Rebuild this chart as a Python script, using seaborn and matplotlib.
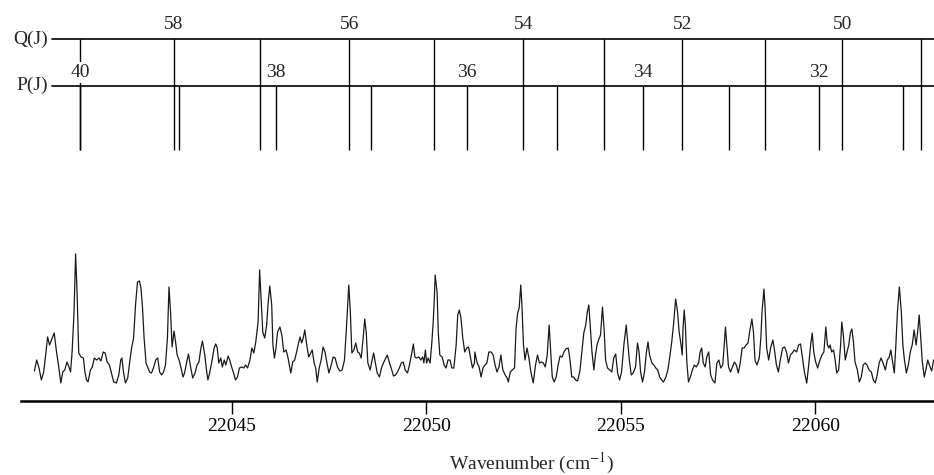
import matplotlib
matplotlib.use("Agg")
import matplotlib.pyplot as plt
import seaborn as sns
import pandas as pd

# rotational assignments: Q(J) and P(J) line positions (cm-1)
q_j = [59, 58, 57, 56, 55, 54, 53, 52, 51, 50, 49]
q_wn = [22041.10, 22043.52, 22045.73, 22048.02, 22050.20, 22052.49,
        22054.57, 22056.58, 22058.71, 22060.69, 22062.72]
p_j = [40, 39, 38, 37, 36, 35, 34, 33, 32, 31]
p_wn = [22041.10, 22043.65, 22046.14, 22048.58, 22051.05, 22053.36,
        22055.57, 22057.78, 22060.10, 22062.26]

x_ticks = [22045, 22050, 22055, 22060]

# spectrum (intensity in arbitrary units)
spectrum_wn = [
    22039.93, 22039.99, 22040.05, 22040.11, 22040.17, 22040.22, 22040.27, 22040.32, 22040.37, 22040.44,
    22040.50, 22040.56, 22040.61, 22040.66, 22040.71, 22040.77, 22040.82, 22040.86, 22040.90, 22040.95,
    22040.99, 22041.03, 22041.07, 22041.13, 22041.19, 22041.23, 22041.27, 22041.31, 22041.37, 22041.42,
    22041.47, 22041.53, 22041.59, 22041.64, 22041.70, 22041.75, 22041.80, 22041.86, 22041.91, 22041.97,
    22042.04, 22042.10, 22042.15, 22042.18, 22042.22, 22042.27, 22042.33, 22042.38, 22042.43, 22042.48,
    22042.53, 22042.58, 22042.63, 22042.67, 22042.71, 22042.75, 22042.80, 22042.84, 22042.89, 22042.94,
    22042.99, 22043.05, 22043.10, 22043.15, 22043.20, 22043.25, 22043.30, 22043.35, 22043.39, 22043.43,
    22043.47, 22043.52, 22043.56, 22043.60, 22043.65, 22043.70, 22043.75, 22043.79, 22043.84, 22043.89,
    22043.95, 22044.00, 22044.06, 22044.11, 22044.16, 22044.21, 22044.25, 22044.31, 22044.36, 22044.39,
    22044.44, 22044.49, 22044.55, 22044.59, 22044.63, 22044.67, 22044.72, 22044.76, 22044.81, 22044.85,
    22044.91, 22044.95, 22045.00, 22045.05, 22045.10, 22045.15, 22045.20, 22045.26, 22045.31, 22045.36,
    22045.41,
    22045.47, 22045.52, 22045.57, 22045.62, 22045.68, 22045.72, 22045.76, 22045.80, 22045.85, 22045.90,
    22045.94, 22045.98, 22046.03, 22046.06, 22046.10, 22046.14, 22046.18, 22046.24, 22046.29, 22046.34,
    22046.40, 22046.45, 22046.52, 22046.57, 22046.62, 22046.67, 22046.72, 22046.76, 22046.80, 22046.84,
    22046.88, 22046.93, 22046.98, 22047.03, 22047.07, 22047.12, 22047.16, 22047.20, 22047.25, 22047.30,
    22047.35, 22047.40, 22047.45, 22047.50, 22047.56, 22047.61, 22047.66, 22047.72, 22047.78, 22047.84,
    22047.90, 22047.95, 22048.01, 22048.05, 22048.09, 22048.14, 22048.19, 22048.24, 22048.28, 22048.33,
    22048.38, 22048.42, 22048.46, 22048.50, 22048.56, 22048.61, 22048.65, 22048.69, 22048.74, 22048.80,
    22048.85, 22048.90, 22048.95, 22049.00, 22049.05, 22049.10, 22049.16, 22049.21, 22049.26, 22049.31,
    22049.36, 22049.41, 22049.46, 22049.52, 22049.57, 22049.62, 22049.67, 22049.71, 22049.75, 22049.81,
    22049.86, 22049.91, 22049.94, 22049.98, 22050.01, 22050.05, 22050.10, 22050.14, 22050.18, 22050.21,
    22050.23, 22050.28, 22050.31, 22050.35, 22050.41, 22050.46, 22050.51, 22050.56, 22050.61, 22050.66,
    22050.71, 22050.77, 22050.81, 22050.85, 22050.89, 22050.94, 22050.99, 22051.04, 22051.09, 22051.14,
    22051.19, 22051.24,
    22051.25, 22051.31, 22051.36, 22051.41, 22051.46, 22051.51, 22051.56, 22051.61, 22051.67, 22051.72,
    22051.77, 22051.82, 22051.87, 22051.92, 22051.97, 22052.03, 22052.08, 22052.11, 22052.16, 22052.21,
    22052.27, 22052.31, 22052.35, 22052.39, 22052.43, 22052.46, 22052.50, 22052.54, 22052.59, 22052.64,
    22052.69, 22052.75, 22052.81, 22052.86, 22052.91, 22052.96, 22053.01, 22053.06, 22053.11, 22053.16,
    22053.20, 22053.24, 22053.29, 22053.34, 22053.39, 22053.44, 22053.49, 22053.54, 22053.59, 22053.65,
    22053.69, 22053.74, 22053.79, 22053.84, 22053.89, 22053.95, 22054.00, 22054.05, 22054.10, 22054.14,
    22054.18, 22054.22, 22054.26, 22054.31, 22054.35, 22054.39, 22054.43, 22054.48, 22054.53, 22054.57,
    22054.61, 22054.66, 22054.72, 22054.77, 22054.82, 22054.87, 22054.92, 22054.97, 22055.02, 22055.08,
    22055.14, 22055.18, 22055.22, 22055.27, 22055.32, 22055.38, 22055.43, 22055.47, 22055.51, 22055.56,
    22055.61, 22055.66, 22055.70, 22055.74, 22055.80, 22055.85, 22055.90, 22055.95, 22056.00, 22056.05,
    22056.10, 22056.16, 22056.21, 22056.26, 22056.31, 22056.36, 22056.41, 22056.46, 22056.50, 22056.55,
    22056.58, 22056.60, 22056.63, 22056.66, 22056.70, 22056.74, 22056.79, 22056.84, 22056.89, 22056.94,
    22057.00,
    22057.04, 22057.08, 22057.12, 22057.17, 22057.21, 22057.26, 22057.31, 22057.36, 22057.42, 22057.47,
    22057.52, 22057.57, 22057.62, 22057.66, 22057.69, 22057.72, 22057.77, 22057.82, 22057.87, 22057.92,
    22057.97, 22058.02, 22058.07, 22058.12, 22058.17, 22058.22, 22058.27, 22058.32, 22058.37, 22058.41,
    22058.45, 22058.50, 22058.56, 22058.60, 22058.63, 22058.68, 22058.71, 22058.75, 22058.80, 22058.85,
    22058.91, 22058.95, 22059.00, 22059.05, 22059.10, 22059.16, 22059.21, 22059.26, 22059.31, 22059.36,
    22059.41, 22059.46, 22059.52, 22059.57, 22059.62, 22059.67, 22059.72, 22059.78, 22059.83, 22059.88,
    22059.92, 22059.96, 22060.01, 22060.06, 22060.12, 22060.17, 22060.22, 22060.27, 22060.31, 22060.35,
    22060.38, 22060.42, 22060.47, 22060.51, 22060.55, 22060.60, 22060.65, 22060.68, 22060.72, 22060.77,
    22060.81, 22060.86, 22060.90, 22060.94, 22060.98, 22061.02, 22061.08, 22061.13, 22061.18, 22061.23,
    22061.28, 22061.33, 22061.38, 22061.44, 22061.49, 22061.54, 22061.59, 22061.64, 22061.69, 22061.74,
    22061.80, 22061.85, 22061.90, 22061.94, 22061.98, 22062.03, 22062.07, 22062.11, 22062.16, 22062.21,
    22062.25, 22062.29, 22062.34, 22062.39, 22062.44, 22062.49, 22062.54, 22062.59, 22062.63, 22062.67,
    22062.71, 22062.75, 22062.80, 22062.84, 22062.89, 22062.93, 22062.99, 22063.04,
]
spectrum_int = [
    0.14, 0.25, 0.17, 0.05, 0.13, 0.30, 0.48, 0.40, 0.45, 0.52,
    0.33, 0.17, 0.02, 0.13, 0.15, 0.23, 0.18, 0.13, 0.33, 0.73,
    1.31, 0.90, 0.32, 0.28, 0.27, 0.13, 0.05, 0.03, 0.15, 0.18,
    0.27, 0.25, 0.27, 0.24, 0.33, 0.32, 0.23, 0.20, 0.12, 0.03,
    0.02, 0.10, 0.25, 0.27, 0.13, 0.02, 0.07, 0.23, 0.37, 0.47,
    0.80, 1.03, 1.04, 0.97, 0.77, 0.47, 0.22, 0.18, 0.13, 0.12,
    0.17, 0.25, 0.27, 0.13, 0.10, 0.13, 0.20, 0.47, 0.98, 0.73,
    0.38, 0.54, 0.43, 0.30, 0.25, 0.17, 0.08, 0.12, 0.22, 0.31,
    0.17, 0.07, 0.12, 0.20, 0.23, 0.37, 0.44, 0.30, 0.13, 0.05,
    0.13, 0.23, 0.37, 0.41, 0.37, 0.22, 0.27, 0.18, 0.25, 0.20,
    0.29, 0.25, 0.18, 0.12, 0.05, 0.08, 0.17, 0.18, 0.17, 0.20,
    0.17,
    0.25, 0.37, 0.32, 0.43, 0.63, 1.15, 0.83, 0.53, 0.47, 0.60,
    0.83, 0.99, 0.80, 0.40, 0.27, 0.37, 0.53, 0.58, 0.50, 0.33,
    0.35, 0.27, 0.12, 0.23, 0.25, 0.33, 0.42, 0.48, 0.42, 0.47,
    0.55, 0.40, 0.28, 0.32, 0.35, 0.22, 0.17, 0.03, 0.17, 0.25,
    0.38, 0.33, 0.22, 0.12, 0.20, 0.28, 0.27, 0.18, 0.14, 0.15,
    0.25, 0.57, 1.00, 0.73, 0.32, 0.35, 0.42, 0.33, 0.32, 0.27,
    0.47, 0.66, 0.52, 0.22, 0.15, 0.25, 0.32, 0.23, 0.12, 0.08,
    0.17, 0.22, 0.26, 0.30, 0.23, 0.17, 0.09, 0.10, 0.13, 0.17,
    0.22, 0.23, 0.15, 0.12, 0.20, 0.30, 0.41, 0.28, 0.27, 0.28,
    0.25, 0.28, 0.22, 0.35, 0.22, 0.27, 0.22, 0.40, 0.63, 0.87,
    1.10, 0.93, 0.53, 0.30, 0.28, 0.20, 0.17, 0.25, 0.25, 0.17,
    0.17, 0.40, 0.70, 0.75, 0.68, 0.47, 0.33, 0.37, 0.38, 0.27,
    0.17, 0.22,
    0.33, 0.22, 0.18, 0.08, 0.17, 0.20, 0.22, 0.33, 0.33, 0.30,
    0.20, 0.13, 0.18, 0.30, 0.15, 0.10, 0.07, 0.03, 0.13, 0.15,
    0.17, 0.57, 0.72, 0.77, 1.00, 0.80, 0.40, 0.25, 0.37, 0.27,
    0.13, 0.02, 0.20, 0.30, 0.22, 0.23, 0.22, 0.18, 0.30, 0.60,
    0.33, 0.08, 0.03, 0.08, 0.20, 0.29, 0.28, 0.33, 0.36, 0.37,
    0.27, 0.08, 0.08, 0.05, 0.04, 0.14, 0.33, 0.52, 0.60, 0.73,
    0.80, 0.57, 0.33, 0.15, 0.30, 0.40, 0.45, 0.50, 0.78, 0.57,
    0.25, 0.17, 0.15, 0.13, 0.27, 0.31, 0.12, 0.05, 0.13, 0.40,
    0.60, 0.43, 0.25, 0.10, 0.12, 0.18, 0.42, 0.33, 0.13, 0.03,
    0.13, 0.33, 0.43, 0.30, 0.22, 0.20, 0.17, 0.15, 0.08, 0.05,
    0.03, 0.08, 0.15, 0.28, 0.43, 0.62, 0.86, 0.73, 0.53, 0.40,
    0.30, 0.57, 0.75, 0.60, 0.22, 0.03, 0.08, 0.15, 0.20, 0.18,
    0.22,
    0.33, 0.37, 0.22, 0.18, 0.28, 0.33, 0.10, 0.05, 0.02, 0.22,
    0.25, 0.17, 0.20, 0.40, 0.58, 0.43, 0.18, 0.13, 0.18, 0.23,
    0.20, 0.12, 0.22, 0.37, 0.37, 0.40, 0.42, 0.55, 0.66, 0.53,
    0.25, 0.20, 0.27, 0.47, 0.73, 0.96, 0.77, 0.37, 0.25, 0.37,
    0.45, 0.35, 0.20, 0.13, 0.25, 0.37, 0.38, 0.33, 0.22, 0.30,
    0.32, 0.35, 0.33, 0.40, 0.41, 0.27, 0.13, 0.02, 0.20, 0.40,
    0.52, 0.33, 0.23, 0.17, 0.25, 0.30, 0.33, 0.58, 0.40, 0.37,
    0.40, 0.33, 0.35, 0.25, 0.12, 0.15, 0.40, 0.63, 0.50, 0.25,
    0.32, 0.40, 0.52, 0.56, 0.43, 0.23, 0.15, 0.03, 0.08, 0.20,
    0.22, 0.20, 0.15, 0.13, 0.05, 0.02, 0.10, 0.22, 0.27, 0.22,
    0.15, 0.25, 0.28, 0.35, 0.25, 0.12, 0.40, 0.73, 0.98, 0.73,
    0.40, 0.25, 0.12, 0.20, 0.33, 0.40, 0.55, 0.40, 0.53, 0.70,
    0.47, 0.23, 0.08, 0.15, 0.25, 0.20, 0.14, 0.25,
]

sns.set_style("white")
plt.rcParams['font.family'] = ['Liberation Serif', 'DejaVu Serif']
plt.rcParams['mathtext.fontset'] = 'stix'

fig = plt.figure(figsize=(9.34, 4.75), dpi=100)
ax = fig.add_axes([0.0222, 0.1558, 0.9778, 0.8442])

spec = pd.DataFrame({'wn': spectrum_wn, 'intensity': spectrum_int})
sns.lineplot(data=spec, x='wn', y='intensity', ax=ax, color='#1a1a1a',
             lw=0.9, sort=False, estimator=None)

ax.set_xlim(22039.58, 22063.05)
ax.set_ylim(-0.16, 3.85)

# assignment ladder (x in data, y in axes fraction)
tr = ax.get_xaxis_transform()
q_y, p_y, stick_bottom = 0.9027, 0.7863, 0.6259
for y in (q_y, p_y):
    ax.plot([0.034, 1.0], [y, y], transform=ax.transAxes, color='black',
            lw=1.2, clip_on=False)
ax.vlines(q_wn, stick_bottom, q_y, transform=tr, color='black', lw=1.0)
ax.vlines(p_wn, stick_bottom, p_y, transform=tr, color='black', lw=1.0)

for j, w in zip(q_j, q_wn):
    if j % 2 == 0:
        ax.text(w, 0.9377, str(j), transform=tr, ha='center', va='center',
                fontsize=14)
for j, w in zip(p_j, p_wn):
    if j % 2 == 0:
        ax.text(w, 0.8197, str(j), transform=tr, ha='center', va='center',
                fontsize=14,
                bbox=dict(boxstyle='square,pad=0.1', fc='white', ec='none'))

ax.text(0.030, q_y, 'Q(J)', transform=ax.transAxes, ha='right',
        va='center', fontsize=14, clip_on=False)
ax.text(0.030, p_y, 'P(J)', transform=ax.transAxes, ha='right',
        va='center', fontsize=14, clip_on=False)

# axes styling
for side in ('left', 'top', 'right'):
    ax.spines[side].set_visible(False)
ax.spines['bottom'].set_linewidth(1.8)
ax.spines['bottom'].set_color('black')
ax.set_yticks([])
ax.set_xticks(x_ticks)
ax.set_xticklabels([str(t) for t in x_ticks])
ax.tick_params(axis='x', bottom=True, direction='out', length=9.5,
               width=1.0, pad=3, labelsize=14, colors='black')
ax.set_ylabel('')
ax.set_xlabel('Wavenumber (cm$^{-1}$)', fontsize=14)
ax.xaxis.set_label_coords(0.560, -0.124)

fig.savefig('out.png', dpi=100)
